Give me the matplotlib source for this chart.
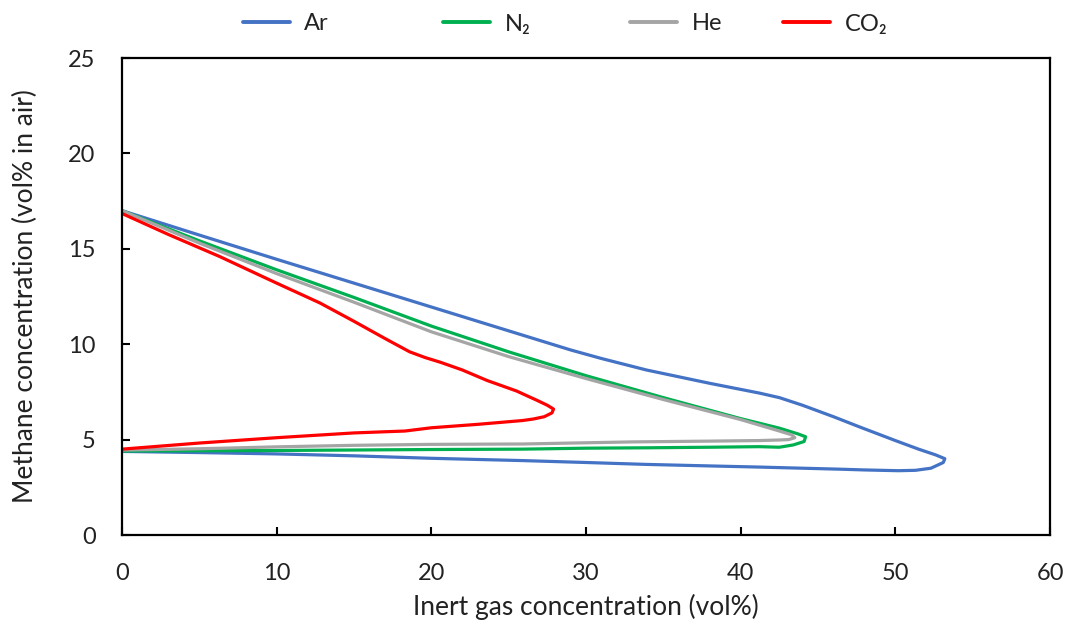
import matplotlib
matplotlib.use("Agg")
import matplotlib.pyplot as plt
from matplotlib.lines import Line2D

plt.rcParams['font.family'] = ['Lato', 'DejaVu Sans']
plt.rcParams['font.weight'] = 'normal'

# ---- data (vol% inert, vol% methane) ----
ar_x = [0, 5, 10, 15, 20, 25, 29, 31, 33.9, 38, 41.2, 42.5, 44, 46, 47.7, 50, 51.5, 52.6, 53.2, 53.1,
        52.3, 51.3, 50.2, 48, 46.4, 44, 41.2, 38, 33.9, 30, 25.9, 20, 15, 10, 5, 0]
ar_y = [17.0, 15.72, 14.45, 13.2, 11.95, 10.7, 9.7, 9.25, 8.65, 7.95, 7.44, 7.2, 6.8, 6.2, 5.66, 4.95, 4.5, 4.2, 4.0, 3.8,
        3.5, 3.39, 3.37, 3.41, 3.45, 3.5, 3.56, 3.62, 3.7, 3.8, 3.9, 4.02, 4.15, 4.25, 4.32, 4.38]

n2_x = [0, 5, 10, 15, 20, 25, 30, 35, 40, 42.5, 43.7, 44.2, 44.1, 43.4, 42.5, 41.2, 38, 33.9, 30, 25.9, 20, 10, 0]
n2_y = [17.0, 15.42, 13.9, 12.45, 10.95, 9.6, 8.35, 7.2, 6.1, 5.6, 5.3, 5.15, 4.9, 4.72, 4.6, 4.63, 4.6, 4.57, 4.55, 4.5, 4.48, 4.43, 4.4]

he_x = [0, 5, 10, 15, 20, 25, 30, 35, 40, 42.5, 43.3, 43.5, 43.1, 42.5, 41.2, 38, 33, 25.9, 20, 15, 10, 5, 0]
he_y = [17.0, 15.3, 13.7, 12.2, 10.65, 9.35, 8.2, 7.1, 6.05, 5.45, 5.25, 5.1, 5.0, 4.98, 4.95, 4.92, 4.88, 4.77, 4.75, 4.7, 4.62, 4.52, 4.45]

co2_x = [0, 3, 6.3, 10, 12.8, 15, 17, 18.6, 19.6, 20.6, 22, 23.6, 25.5, 26.8, 27.5, 27.9, 27.8, 27.3, 26.6, 25.9, 23, 20, 18.3, 15, 12.8, 10, 5, 0]
co2_y = [16.85, 15.75, 14.6, 13.2, 12.16, 11.2, 10.3, 9.6, 9.3, 9.05, 8.65, 8.1, 7.55, 7.07, 6.8, 6.6, 6.4, 6.2, 6.08, 6.0, 5.8, 5.62, 5.45, 5.35, 5.24, 5.1, 4.82, 4.5]

labels = ['Ar', 'N\u2082', 'He', 'CO\u2082']
colors = ['#4472C4', '#00B050', '#A5A5A5', '#FF0000']
series = [(ar_x, ar_y), (n2_x, n2_y), (he_x, he_y), (co2_x, co2_y)]

x_ticks = [0, 10, 20, 30, 40, 50, 60]
y_ticks = [0, 5, 10, 15, 20, 25]

fig = plt.figure(figsize=(10.76, 6.26), dpi=100)
ax = fig.add_axes([122/1076, 1-535/626, (1050-122)/1076, (535-58)/626])

for (xs, ys), c in zip(series, colors):
    ax.plot(xs, ys, color=c, lw=2.3, solid_joinstyle='round', solid_capstyle='round')

ax.set_xlim(0, 60)
ax.set_ylim(0, 25)
ax.set_xticks(x_ticks)
ax.set_yticks(y_ticks)
ax.tick_params(direction='in', length=6, width=1.5, labelsize=17, colors='black', labelcolor='#222222')
ax.tick_params(axis='x', pad=20)
ax.tick_params(axis='y', pad=19)
for s in ax.spines.values():
    s.set_linewidth(1.6)
    s.set_color('black')

ax.set_xlabel('Inert gas concentration (vol%)', fontsize=19, labelpad=7, color='#222222')
ax.set_ylabel('Methane concentration (vol% in air)', fontsize=19, labelpad=22, color='#222222')

leg_x = [243, 443, 630, 783]
for lab, c, lx in zip(labels, colors, leg_x):
    h = Line2D([], [], color=c, lw=2.8, solid_capstyle='round')
    fig.legend([h], [lab], loc='center left', bbox_to_anchor=(lx/1076, 1-24/626),
               frameon=False, borderpad=0, borderaxespad=0, handlelength=2.0,
               handletextpad=0.6, fontsize=17, labelcolor='#222222')

fig.savefig('out.png', dpi=100)
